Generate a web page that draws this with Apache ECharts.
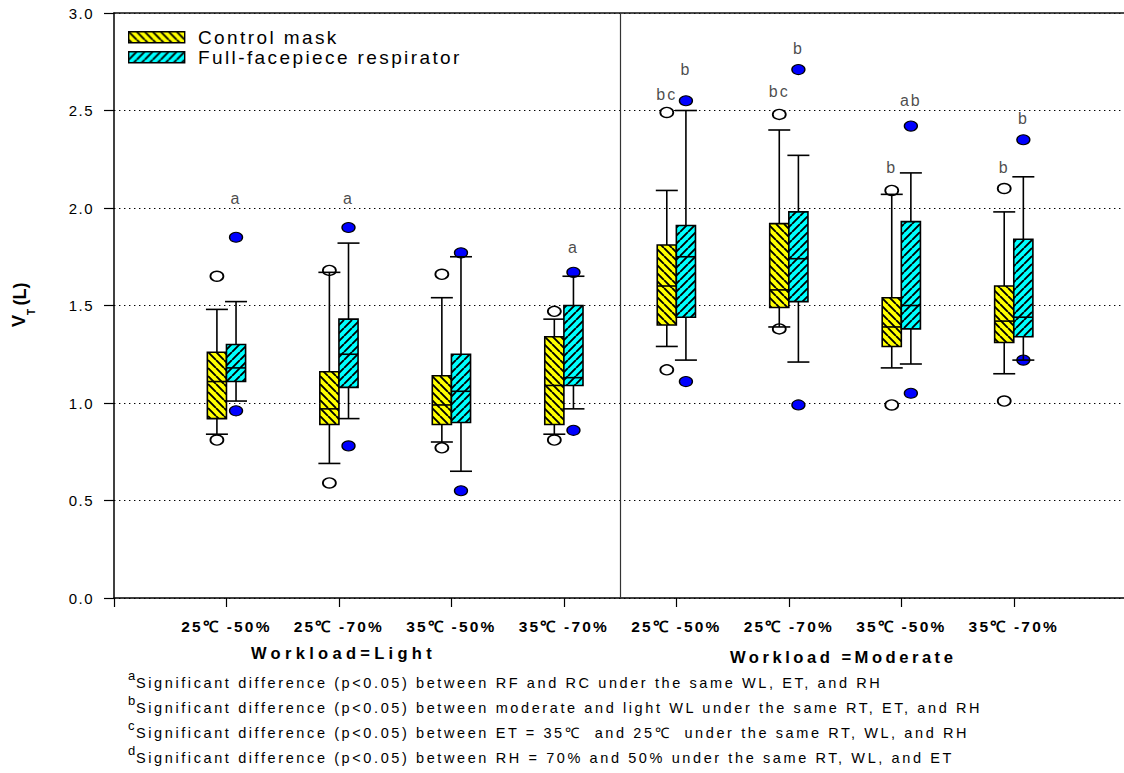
<!DOCTYPE html>
<html>
<head>
<meta charset="utf-8">
<title>Tidal volume by mask type</title>
<script src="https://cdn.jsdelivr.net/npm/echarts@6.0.0/dist/echarts.min.js"></script>
<style>
  html, body { margin: 0; padding: 0; background: #fff; }
  #chart { width: 1124px; height: 773px; }
  /* SigmaPlot-style widely tracked lettering, keyed on each text role's size */
  #chart text[style*="15px"]   { letter-spacing: 1.5px; }
  #chart text[style*="15.5px"] { letter-spacing: 2.2px; }
  #chart text[style*="19px"]   { letter-spacing: 2.4px; }
  #chart text[style*="16.5px"] { letter-spacing: 4.3px; }
  #chart text[style*="16.6px"] { letter-spacing: 3.5px; }
  #chart text[style*="14.5px"] { letter-spacing: 2.6px; }
  #chart text[style*="16px"]   { letter-spacing: 2px; }
</style>
</head>
<body>
<div id="chart"></div>
<script>
// Condition labels along the x axis (ambient temperature - relative humidity)
const categories = ['25℃ -50%', '25℃ -70%', '35℃ -50%', '35℃ -70%',
                    '25℃ -50%', '25℃ -70%', '35℃ -50%', '35℃ -70%'];
const workloads = ['Workload=Light', 'Workload =Moderate'];
const yTicks = [0, 0.5, 1.0, 1.5, 2.0, 2.5, 3.0];

// Box statistics, VT (L): [lower whisker, Q1, median, Q3, upper whisker]
const controlBoxes = [
  [0.84, 0.92, 1.11, 1.26, 1.48],
  [0.69, 0.89, 0.97, 1.16, 1.67],
  [0.80, 0.89, 0.99, 1.14, 1.54],
  [0.84, 0.89, 1.09, 1.34, 1.43],
  [1.29, 1.40, 1.60, 1.81, 2.09],
  [1.39, 1.49, 1.58, 1.92, 2.40],
  [1.18, 1.29, 1.39, 1.54, 2.07],
  [1.15, 1.31, 1.42, 1.60, 1.98]
];
const respiratorBoxes = [
  [1.01, 1.11, 1.18, 1.30, 1.52],
  [0.92, 1.08, 1.25, 1.43, 1.82],
  [0.65, 0.90, 1.06, 1.25, 1.75],
  [0.97, 1.09, 1.13, 1.50, 1.65],
  [1.22, 1.44, 1.75, 1.91, 2.50],
  [1.21, 1.52, 1.74, 1.98, 2.27],
  [1.20, 1.38, 1.50, 1.93, 2.18],
  [1.22, 1.34, 1.44, 1.84, 2.16]
];

// Outlying observations (5th / 95th percentile points) per condition
const controlOutliers = [
  [1.65, 0.81], [1.68, 0.59], [1.66, 0.77], [1.47, 0.81],
  [2.49, 1.17], [2.48, 1.38], [2.09, 0.99], [2.10, 1.01]
];
const respiratorOutliers = [
  [1.85, 0.96], [1.90, 0.78], [1.77, 0.55], [1.67, 0.86],
  [2.55, 1.11], [2.71, 0.99], [2.42, 1.05], [2.35, 1.22]
];

// Significance letters and the VT level they are written at
const controlLetters = ['', '', '', '', 'bc', 'bc', 'b', 'b'];
const controlLetterY = [null, null, null, null, 2.58, 2.60, 2.21, 2.21];
const respiratorLetters = ['a', 'a', '', 'a', 'b', 'b', 'ab', 'b'];
const respiratorLetterY = [2.05, 2.05, null, 1.80, 2.71, 2.82, 2.55, 2.46];

const footnoteMarks = ['a', 'b', 'c', 'd'];
const footnotes = [
  'Significant difference (p<0.05) between RF and RC under the same WL, ET, and RH',
  'Significant difference (p<0.05) between moderate and light WL under the same RT, ET, and RH',
  'Significant difference (p<0.05) between ET = 35℃  and 25℃  under the same RT, WL, and RH',
  'Significant difference (p<0.05) between RH = 70% and 50% under the same RT, WL, and ET'
];

// ---- layout / style constants ----
const FONT = '"Liberation Sans", Arial, Helvetica, sans-serif';
const X_MAX = 8.98;      // the frame runs on past the right edge of the page
const BOX_W = 0.17;      // box width in axis units; the two boxes sit side by side
const CAP_PX = 22;       // whisker cap length in pixels
const INK = '#000';

function hatch(bg, forward) {
  const c = document.createElement('canvas');
  c.width = c.height = 8;
  const g = c.getContext('2d');
  g.fillStyle = bg;
  g.fillRect(0, 0, 8, 8);
  g.strokeStyle = INK;
  g.lineWidth = 1.9;
  g.beginPath();
  for (let k = -1; k <= 1; k++) {
    if (forward) { g.moveTo(k * 8, 8); g.lineTo(k * 8 + 8, 0); }
    else { g.moveTo(k * 8, 0); g.lineTo(k * 8 + 8, 8); }
  }
  g.stroke();
  return { image: c, repeat: 'repeat' };
}
const controlFill = hatch('#ffff00', false);
const respiratorFill = hatch('#00ffff', true);

function boxData(boxes) {
  return boxes.map((b, i) => [i + 1].concat(b));
}

function boxRenderer(side, fill) {
  return function (params, api) {
    const x = api.value(0) + side * BOX_W / 2;
    const lo = api.coord([x, api.value(1)]);
    const q1 = api.coord([x, api.value(2)]);
    const md = api.coord([x, api.value(3)]);
    const q3 = api.coord([x, api.value(4)]);
    const hi = api.coord([x, api.value(5)]);
    const w = api.size([BOX_W, 0])[0];
    const cx = lo[0];
    const h = CAP_PX / 2;
    const ln = { stroke: INK, lineWidth: 1.6 };
    return {
      type: 'group',
      children: [
        { type: 'line', shape: { x1: cx, y1: lo[1], x2: cx, y2: hi[1] }, style: ln },
        { type: 'line', shape: { x1: cx - h, y1: lo[1], x2: cx + h, y2: lo[1] }, style: ln },
        { type: 'line', shape: { x1: cx - h, y1: hi[1], x2: cx + h, y2: hi[1] }, style: ln },
        { type: 'rect', shape: { x: cx - w / 2, y: q3[1], width: w, height: q1[1] - q3[1] },
          style: { fill: fill, stroke: INK, lineWidth: 1.6 } },
        { type: 'line', shape: { x1: cx - w / 2, y1: md[1], x2: cx + w / 2, y2: md[1] }, style: ln }
      ]
    };
  };
}

function outlierData(list, side) {
  const out = [];
  list.forEach((vals, i) => vals.forEach(v => out.push([i + 1 + side * BOX_W / 2, v])));
  return out;
}

function letterData(letters, ys, side) {
  const out = [];
  letters.forEach((t, i) => {
    if (t) out.push({ value: [i + 1 + side * BOX_W / 2, ys[i]], name: t });
  });
  return out;
}

const chart = echarts.init(document.getElementById('chart'), null, { renderer: 'svg' });

const graphics = [];
// legend
[[controlFill, 'Control mask', 31], [respiratorFill, 'Full-facepiece respirator', 51]].forEach(([f, t, y]) => {
  graphics.push({ type: 'rect', left: 128, top: y, shape: { width: 56, height: 11 },
    style: { fill: f, stroke: INK, lineWidth: 1.4 }, z: 10 });
  graphics.push({ type: 'text', x: 198, y: y + 6, z: 10,
    style: { text: t, fontFamily: FONT, fontSize: 19, fill: INK, textAlign: 'left', textVerticalAlign: 'middle' } });
});
// y axis title: V_T(L)
graphics.push({ type: 'text', x: 19, y: 321, rotation: Math.PI / 2,
  style: { text: 'V', fontFamily: FONT, fontSize: 18, fontWeight: 'bold', fill: INK, textAlign: 'center', textVerticalAlign: 'middle' } });
graphics.push({ type: 'text', x: 31, y: 312, rotation: Math.PI / 2,
  style: { text: 'T', fontFamily: FONT, fontSize: 10, fontWeight: 'bold', fill: INK, textAlign: 'center', textVerticalAlign: 'middle' } });
graphics.push({ type: 'text', x: 20, y: 294, rotation: Math.PI / 2,
  style: { text: '(L)', fontFamily: FONT, fontSize: 18, fontWeight: 'bold', fill: INK, textAlign: 'center', textVerticalAlign: 'middle' } });
// workload group titles
graphics.push({ type: 'text', x: 251, y: 653,
  style: { text: workloads[0], fontFamily: FONT, fontSize: 16.5, fontWeight: 'bold', fill: INK, textAlign: 'left', textVerticalAlign: 'middle' } });
graphics.push({ type: 'text', x: 730, y: 657,
  style: { text: workloads[1], fontFamily: FONT, fontSize: 16.6, fontWeight: 'bold', fill: INK, textAlign: 'left', textVerticalAlign: 'middle' } });
// footnotes
footnotes.forEach((t, i) => {
  const y = 683 + i * 25;
  graphics.push({ type: 'text', x: 128, y: y - 8,
    style: { text: footnoteMarks[i], fontFamily: FONT, fontSize: 13, fill: INK, textAlign: 'left', textVerticalAlign: 'middle' } });
  graphics.push({ type: 'text', x: 136, y: y,
    style: { text: t, fontFamily: FONT, fontSize: 14.5, fill: INK, textAlign: 'left', textVerticalAlign: 'middle' } });
});

chart.setOption({
  animation: false,
  backgroundColor: '#fff',
  grid: { left: 114, right: 0, top: 13, bottom: 175, show: false },
  xAxis: [{
    type: 'value', min: 0, max: X_MAX, interval: 1,
    axisLine: { show: true, onZero: false, lineStyle: { color: INK, width: 1.5 } },
    axisTick: { show: true, inside: false, length: 9, lineStyle: { color: INK, width: 1.2 } },
    splitLine: { show: false },
    axisLabel: {
      margin: 20, fontFamily: FONT, fontSize: 15.5, fontWeight: 'bold', color: INK,
      showMaxLabel: false,
      formatter: v => categories[v - 1] || ''
    }
  }, {
    // top edge of the frame
    type: 'value', position: 'top', min: 0, max: X_MAX,
    axisLine: { show: true, onZero: false, lineStyle: { color: '#111', width: 1.5 } },
    axisTick: { show: false }, axisLabel: { show: false }, splitLine: { show: false }
  }],
  yAxis: {
    type: 'value', min: 0, max: 3, interval: 0.5,
    axisLine: { show: true, lineStyle: { color: INK, width: 1.5 } },
    axisTick: { show: true, inside: false, length: 10, lineStyle: { color: INK, width: 1.2 } },
    splitLine: { show: true, lineStyle: { color: INK, width: 1.2, type: [1.4, 3.6] } },
    axisLabel: {
      margin: 20, fontFamily: FONT, fontSize: 15, color: INK,
      formatter: v => yTicks.indexOf(v) >= 0 ? v.toFixed(1) : ''
    }
  },
  graphic: graphics,
  series: [
    {
      name: 'Control mask outliers', type: 'scatter', z: 2,
      symbol: 'circle', symbolSize: [13, 10],
      itemStyle: { color: '#fff', borderColor: INK, borderWidth: 1.6, opacity: 1 },
      data: outlierData(controlOutliers, -1)
    },
    {
      name: 'Full-facepiece respirator outliers', type: 'scatter', z: 2,
      symbol: 'circle', symbolSize: [13, 10],
      itemStyle: { color: '#0000ff', borderColor: INK, borderWidth: 1.2, opacity: 1 },
      data: outlierData(respiratorOutliers, 1)
    },
    {
      name: 'Control mask', type: 'custom', z: 3,
      renderItem: boxRenderer(-1, controlFill),
      encode: { x: 0, y: [1, 2, 3, 4, 5] },
      data: boxData(controlBoxes)
    },
    {
      name: 'Full-facepiece respirator', type: 'custom', z: 3,
      renderItem: boxRenderer(1, respiratorFill),
      encode: { x: 0, y: [1, 2, 3, 4, 5] },
      data: boxData(respiratorBoxes)
    },
    {
      name: 'Significance', type: 'scatter', z: 4, symbolSize: 0, silent: true,
      label: { show: true, position: 'inside', formatter: p => p.name,
        fontFamily: FONT, fontSize: 16, color: '#1a1a1a' },
      data: letterData(controlLetters, controlLetterY, -1).concat(letterData(respiratorLetters, respiratorLetterY, 1)),
      markLine: {
        silent: true, symbol: 'none', label: { show: false },
        lineStyle: { color: '#333', width: 1.2, type: 'solid' },
        data: [{ xAxis: 4.5 }]
      }
    }
  ]
});
</script>
</body>
</html>
